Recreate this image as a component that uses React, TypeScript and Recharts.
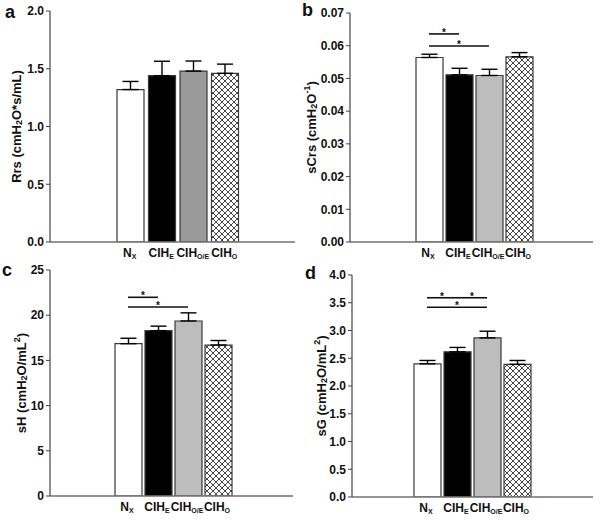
import React from "react";
import { BarChart, Bar, XAxis, YAxis, ErrorBar, Cell, ReferenceLine } from "recharts";

// ── data ──────────────────────────────
const groups = ["Nx", "CIH_E", "CIH_OE", "CIH_O"];
const groupMain = ["N", "CIH", "CIH", "CIH"];
const groupSub = ["X", "E", "O/E", "O"];

const rrsMean = [1.32, 1.44, 1.48, 1.46];
const rrsSem = [0.07, 0.125, 0.087, 0.08];
const rrsTicks = [0, 0.5, 1.0, 1.5, 2.0];
const rrsSig: Sig[] = [];

const scrsMean = [0.0564, 0.0511, 0.0509, 0.0566];
const scrsSem = [0.001, 0.002, 0.0019, 0.0013];
const scrsTicks = [0, 0.01, 0.02, 0.03, 0.04, 0.05, 0.06, 0.07];
const scrsSig: Sig[] = [
  { from: "Nx", to: "CIH_E", y: 0.0636 },
  { from: "Nx", to: "CIH_OE", y: 0.0599 },
];

const shMean = [16.85, 18.29, 19.36, 16.7];
const shSem = [0.6, 0.5, 0.9, 0.5];
const shTicks = [0, 5, 10, 15, 20, 25];
const shSig: Sig[] = [
  { from: "Nx", to: "CIH_E", y: 21.98 },
  { from: "Nx", to: "CIH_OE", y: 20.9 },
];

const sgMean = [2.4, 2.615, 2.867, 2.39];
const sgSem = [0.06, 0.08, 0.12, 0.07];
const sgTicks = [0, 0.5, 1.0, 1.5, 2.0, 2.5, 3.0, 3.5, 4.0];
const sgSig: Sig[] = [
  { from: "Nx", to: "CIH_E", y: 3.59 },
  { from: "CIH_E", to: "CIH_OE", y: 3.59 },
  { from: "Nx", to: "CIH_OE", y: 3.42 },
];

const rrsTitle = [{ t: "Rrs (cmH" }, { t: "2", sub: true }, { t: "O*s/mL)" }];
const scrsTitle = [{ t: "sCrs (cmH" }, { t: "2", sub: true }, { t: "O" }, { t: "-1", sup: true }, { t: ")" }];
const shTitle = [{ t: "sH (cmH" }, { t: "2", sub: true }, { t: "O/mL" }, { t: "2", sup: true }, { t: ")" }];
const sgTitle = [{ t: "sG (cmH" }, { t: "2", sub: true }, { t: "O/mL" }, { t: "2", sup: true }, { t: ")" }];

interface Sig {
  from: string;
  to: string;
  y: number;
}
interface Part {
  t: string;
  sub?: boolean;
  sup?: boolean;
}

const FONT = "'Liberation Sans', Arial, sans-serif";

// ── axis pieces ──────────────────────────────
// eslint-disable-next-line @typescript-eslint/no-explicit-any
function GroupTick({ x, y, payload }: any) {
  const i = groups.indexOf(payload.value);
  return (
    <text x={x - 1} y={y + 15} textAnchor="middle" fontSize={12} fontWeight="bold" fill="#111" fontFamily={FONT}>
      {groupMain[i]}
      <tspan fontSize={7} dy={2}>
        {groupSub[i]}
      </tspan>
    </text>
  );
}

// eslint-disable-next-line @typescript-eslint/no-explicit-any
function TitleLabel({ viewBox, parts, dx }: any) {
  const vb = viewBox || { x: 0, y: 0, width: 50, height: 230 };
  const cx = vb.x + vb.width - dx;
  const cy = vb.y + vb.height / 2;
  let shift = 0;
  return (
    <text
      transform={`translate(${cx},${cy}) rotate(-90)`}
      textAnchor="middle"
      dominantBaseline="central"
      fontSize={13}
      fontWeight="bold"
      fill="#111"
      fontFamily={FONT}
    >
      {parts.map((p: Part, i: number) => {
        const target = p.sub ? 3 : p.sup ? -4 : 0;
        const dy = target - shift;
        shift = target;
        return (
          <tspan key={i} dy={dy} fontSize={p.sub || p.sup ? 9 : 13}>
            {p.t}
          </tspan>
        );
      })}
    </text>
  );
}

interface PanelProps {
  id: string;
  letter: string;
  left: number;
  top: number;
  width: number;
  height: number;
  margin: { top: number; right: number; bottom: number; left: number };
  pad: { left: number; right: number };
  means: number[];
  sems: number[];
  ticks: number[];
  decimals: number;
  gray: string;
  title: Part[];
  titleDx: number;
  sig: Sig[];
  letterTop: number;
  letterLeft: number;
}

function Panel(p: PanelProps) {
  const data = groups.map((g, i) => ({ group: g, value: p.means[i], err: [0, p.sems[i]] }));
  const fills = ["#ffffff", "#000000", p.gray, `url(#hatch-${p.id})`];
  return (
    <>
      <div style={{ position: "absolute", left: p.left, top: p.top }}>
        <BarChart width={p.width} height={p.height} data={data} margin={p.margin} barSize={27}>
          <defs>
            <pattern id={`hatch-${p.id}`} width={6} height={6} patternUnits="userSpaceOnUse">
              <rect width={6} height={6} fill="#fff" />
              <path d="M0,0 L6,6 M6,0 L0,6" stroke="#333" strokeWidth={0.9} />
            </pattern>
          </defs>
          <XAxis
            dataKey="group"
            type="category"
            interval={0}
            padding={p.pad}
            tickLine={false}
            tickSize={0}
            tickMargin={0}
            axisLine={{ stroke: "#707070", strokeWidth: 1.6 }}
            tick={<GroupTick />}
            height={22}
          />
          <YAxis
            type="number"
            domain={[p.ticks[0], p.ticks[p.ticks.length - 1]]}
            ticks={p.ticks}
            allowDataOverflow
            width={48}
            tickSize={4}
            tickLine={{ stroke: "#444" }}
            axisLine={{ stroke: "#444", strokeWidth: 1.2 }}
            tickFormatter={(v: number) => v.toFixed(p.decimals)}
            tick={{ fontSize: 12, fontWeight: "bold", fill: "#111", fontFamily: FONT }}
            label={<TitleLabel parts={p.title} dx={p.titleDx} />}
          />
          <Bar dataKey="value" stroke="#3a3a3a" strokeWidth={1.2} isAnimationActive={false}>
            {data.map((d, i) => (
              <Cell key={d.group} fill={fills[i]} />
            ))}
            <ErrorBar dataKey="err" width={8} stroke="#000" strokeWidth={1.4} direction="y" />
          </Bar>
          {p.sig.map((s, i) => (
            <ReferenceLine
              key={i}
              segment={[
                { x: s.from, y: s.y },
                { x: s.to, y: s.y },
              ]}
              stroke="#111"
              strokeWidth={1.6}
              label={{ value: "*", position: "top", offset: -2, fontSize: 10, fill: "#111", fontWeight: "bold" }}
            />
          ))}
        </BarChart>
      </div>
      <div
        style={{
          position: "absolute",
          left: p.letterLeft,
          top: p.letterTop,
          fontSize: 18,
          lineHeight: "18px",
          fontWeight: "bold",
          fontFamily: FONT,
          color: "#111",
        }}
      >
        {p.letter}
      </div>
    </>
  );
}

export default function App() {
  return (
    <div style={{ position: "relative", width: 601, height: 524, background: "#fff", fontFamily: FONT, overflow: "hidden" }}>
      <style>{"body{margin:0}"}</style>
      <Panel
        id="a"
        letter="a"
        letterLeft={5}
        letterTop={3}
        left={0}
        top={0}
        width={300}
        height={264}
        margin={{ top: 11, right: 5, bottom: 0, left: 2 }}
        pad={{ left: 65, right: 54 }}
        means={rrsMean}
        sems={rrsSem}
        ticks={rrsTicks}
        decimals={1}
        gray="#9a9a9a"
        title={rrsTitle}
        titleDx={34}
        sig={rrsSig}
      />
      <Panel
        id="b"
        letter="b"
        letterLeft={302}
        letterTop={1}
        left={300}
        top={0}
        width={301}
        height={264}
        margin={{ top: 13, right: 8, bottom: 0, left: 2 }}
        pad={{ left: 64, right: 59 }}
        means={scrsMean}
        sems={scrsSem}
        ticks={scrsTicks}
        decimals={2}
        gray="#bdbdbd"
        title={scrsTitle}
        titleDx={39}
        sig={scrsSig}
      />
      <Panel
        id="c"
        letter="c"
        letterLeft={2}
        letterTop={261}
        left={0}
        top={260}
        width={300}
        height={264}
        margin={{ top: 10, right: 7, bottom: 6, left: 2 }}
        pad={{ left: 63, right: 60 }}
        means={shMean}
        sems={shSem}
        ticks={shTicks}
        decimals={0}
        gray="#bdbdbd"
        title={shTitle}
        titleDx={29}
        sig={shSig}
      />
      <Panel
        id="d"
        letter="d"
        letterLeft={305}
        letterTop={264}
        left={300}
        top={260}
        width={301}
        height={264}
        margin={{ top: 15, right: 8, bottom: 5, left: 4 }}
        pad={{ left: 60, right: 61 }}
        means={sgMean}
        sems={sgSem}
        ticks={sgTicks}
        decimals={1}
        gray="#bdbdbd"
        title={sgTitle}
        titleDx={31}
        sig={sgSig}
      />
    </div>
  );
}
